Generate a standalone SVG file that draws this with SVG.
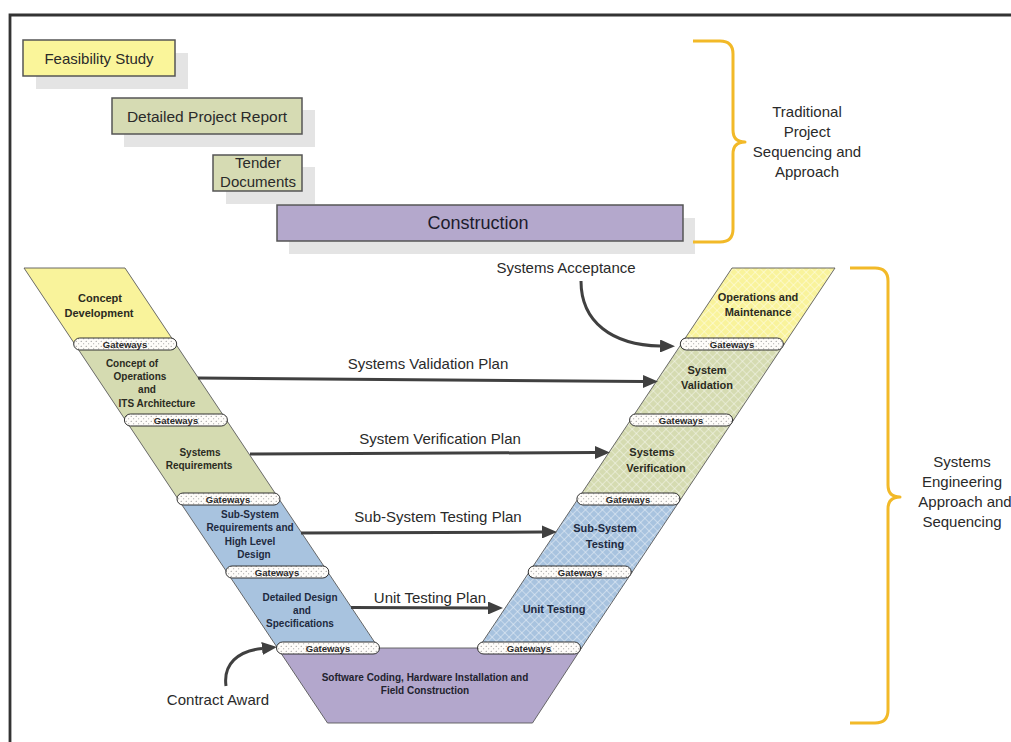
<svg xmlns="http://www.w3.org/2000/svg" width="1011" height="742" viewBox="0 0 1011 742">
  <style>
    .box { stroke: #555; stroke-width: 1.5; }
    .shadow { fill: #e4e4e4; }
    .lbl { font-family: "Liberation Sans", Arial, sans-serif; fill: #2a2a2a; text-anchor: middle; }
    .big { font-size: 15px; }
    .arm { stroke: #5a5a5a; stroke-width: 0.9; }
    .armtxt { font-family: "Liberation Sans", Arial, sans-serif; font-weight: bold; text-anchor: middle; fill: #2b2b22; }
    .s10 { font-size: 10px; }
    .s11 { font-size: 11px; }
    .blue { fill: #1e2a40; }
    .gate { fill: url(#dots); stroke: #333; stroke-width: 1; }
    .gtxt { font-family: "Liberation Sans", Arial, sans-serif; font-weight: bold; font-size: 9.5px; fill: #2a2a2a; text-anchor: middle; }
    .brace { fill: none; stroke: #f2b928; stroke-width: 3; stroke-linejoin: round; }
    .conn { fill: none; stroke: #404040; stroke-width: 3; }
  </style>
  <defs>
    <marker id="head" markerUnits="userSpaceOnUse" markerWidth="15" markerHeight="13" refX="0" refY="6.5" orient="auto">
      <path d="M0,0 L15,6.5 L0,13 z" fill="#404040"/>
    </marker>
    <pattern id="dots" width="5" height="5" patternUnits="userSpaceOnUse">
      <rect width="5" height="5" fill="#fefcf9"/>
      <circle cx="1.2" cy="1.2" r="0.5" fill="#666"/>
      <circle cx="3.7" cy="3.7" r="0.5" fill="#888"/>
    </pattern>
    <pattern id="hatch" width="6" height="6" patternUnits="userSpaceOnUse" patternTransform="rotate(45)">
      <path d="M0,0 H6 M0,0 V6" stroke="#ffffff" stroke-width="1.1" stroke-opacity="0.75"/>
    </pattern>
  </defs>

  <rect width="1011" height="742" fill="#ffffff"/>
  <!-- outer frame -->
  <path d="M10,742 V15 H1011" fill="none" stroke="#333" stroke-width="2.8"/>

  <!-- traditional sequence -->
  <g id="feasibility-study">
    <rect class="shadow" x="36" y="53" width="152" height="36"/>
    <rect class="box" x="23" y="40" width="152" height="36" fill="#faf59a"/>
    <text class="lbl big" x="99" y="64">Feasibility Study</text>
  </g>
  <g id="detailed-project-report">
    <rect class="shadow" x="124" y="110" width="191" height="37"/>
    <rect class="box" x="112" y="98" width="190" height="36" fill="#d6dbb3"/>
    <text class="lbl big" x="207" y="122" style="font-size:15.5px">Detailed Project Report</text>
  </g>
  <g id="tender-documents">
    <rect class="shadow" x="226" y="167" width="89" height="37"/>
    <rect class="box" x="213" y="155" width="89" height="36" fill="#d6dbb3"/>
    <text class="lbl big" x="258" y="168">Tender</text>
    <text class="lbl big" x="258" y="187">Documents</text>
  </g>
  <g id="construction">
    <rect class="shadow" x="289" y="218" width="406" height="36"/>
    <rect class="box" x="277" y="205" width="406" height="36" fill="#b4a8cc"/>
    <text class="lbl" x="478" y="229" style="font-size:18px;fill:#1c1c2c">Construction</text>
  </g>

  <g id="traditional-brace">
    <path class="brace" d="M693,41 H720 Q733,41 733,54 V130 Q733,142 745,142 Q733,142 733,154 V229 Q733,242 720,242 H693"/>
    <text class="lbl big" x="807" y="117">Traditional</text>
    <text class="lbl big" x="807" y="137">Project</text>
    <text class="lbl big" x="807" y="157">Sequencing and</text>
    <text class="lbl big" x="807" y="177">Approach</text>
  </g>

  <!-- left arm of the V -->
  <g id="concept-development">
    <polygon class="arm" points="24,268 125,268 175.7,344 74.7,344" fill="#f9f39b"/>
    <text class="armtxt s11" x="100" y="302">Concept</text>
    <text class="armtxt s11" x="99" y="317">Development</text>
  </g>
  <g id="concept-of-operations">
    <polygon class="arm" points="74.7,344 175.7,344 226.4,420 125.4,420" fill="#d5dbb1"/>
    <text class="armtxt s10" x="132" y="367">Concept of</text>
    <text class="armtxt s10" x="140" y="380">Operations</text>
    <text class="armtxt s10" x="147" y="393">and</text>
    <text class="armtxt s10" x="157" y="407">ITS Architecture</text>
  </g>
  <g id="systems-requirements">
    <polygon class="arm" points="125.4,420 226.4,420 279,499 178,499" fill="#d5dbb1"/>
    <text class="armtxt s10" x="200" y="456">Systems</text>
    <text class="armtxt s10" x="199" y="469">Requirements</text>
  </g>
  <g id="subsystem-requirements">
    <polygon class="arm" points="178,499 279,499 327.8,572 226.8,572" fill="#a8c3df"/>
    <text class="armtxt s10 blue" x="250" y="518">Sub-System</text>
    <text class="armtxt s10 blue" x="250" y="531">Requirements and</text>
    <text class="armtxt s10 blue" x="250" y="545">High Level</text>
    <text class="armtxt s10 blue" x="254" y="558">Design</text>
  </g>
  <g id="detailed-design">
    <polygon class="arm" points="226.8,572 327.8,572 378.5,648 277.5,648" fill="#a8c3df"/>
    <text class="armtxt s10 blue" x="300" y="601">Detailed Design</text>
    <text class="armtxt s10 blue" x="302" y="614">and</text>
    <text class="armtxt s10 blue" x="300" y="627">Specifications</text>
  </g>

  <!-- base of the V -->
  <g id="software-coding">
    <polygon class="arm" points="277.5,648 581.5,648 532.5,723 327.5,723" fill="#b3a7cc"/>
    <text class="armtxt s10" x="425" y="681" style="fill:#22222e">Software Coding, Hardware Installation and</text>
    <text class="armtxt s10" x="425" y="694" style="fill:#22222e">Field Construction</text>
  </g>

  <!-- right arm of the V -->
  <g id="operations-maintenance">
    <polygon points="732,268 835,268 784.3,344 681.3,344" fill="#f9f39b"/>
    <polygon class="arm" points="732,268 835,268 784.3,344 681.3,344" fill="url(#hatch)"/>
    <text class="armtxt s11" x="758" y="301">Operations and</text>
    <text class="armtxt s11" x="758" y="316">Maintenance</text>
  </g>
  <g id="system-validation">
    <polygon points="681.3,344 784.3,344 733.6,420 630.6,420" fill="#d5dbb1"/>
    <polygon class="arm" points="681.3,344 784.3,344 733.6,420 630.6,420" fill="url(#hatch)"/>
    <text class="armtxt s11" x="707" y="374">System</text>
    <text class="armtxt s11" x="707" y="389">Validation</text>
  </g>
  <g id="systems-verification">
    <polygon points="630.6,420 733.6,420 680.9,499 577.9,499" fill="#d5dbb1"/>
    <polygon class="arm" points="630.6,420 733.6,420 680.9,499 577.9,499" fill="url(#hatch)"/>
    <text class="armtxt s11" x="652" y="456">Systems</text>
    <text class="armtxt s11" x="656" y="472">Verification</text>
  </g>
  <g id="subsystem-testing">
    <polygon points="577.9,499 680.9,499 632.2,572 529.2,572" fill="#a8c3df"/>
    <polygon class="arm" points="577.9,499 680.9,499 632.2,572 529.2,572" fill="url(#hatch)"/>
    <text class="armtxt s11 blue" x="605" y="532">Sub-System</text>
    <text class="armtxt s11 blue" x="605" y="548">Testing</text>
  </g>
  <g id="unit-testing">
    <polygon points="529.2,572 632.2,572 581.5,648 478.5,648" fill="#a8c3df"/>
    <polygon class="arm" points="529.2,572 632.2,572 581.5,648 478.5,648" fill="url(#hatch)"/>
    <text class="armtxt s11 blue" x="554" y="613">Unit Testing</text>
  </g>

  <!-- gateways between phases -->
  <g id="gateways-left">
    <rect class="gate" x="73.7" y="338" width="103" height="12" rx="6"/>
    <text class="gtxt" x="125" y="347.5">Gateways</text>
    <rect class="gate" x="124.4" y="414" width="103" height="12" rx="6"/>
    <text class="gtxt" x="176" y="423.5">Gateways</text>
    <rect class="gate" x="177" y="493" width="103" height="12" rx="6"/>
    <text class="gtxt" x="228" y="502.5">Gateways</text>
    <rect class="gate" x="225.8" y="566" width="103" height="12" rx="6"/>
    <text class="gtxt" x="277" y="575.5">Gateways</text>
    <rect class="gate" x="276.5" y="642" width="103" height="12" rx="6"/>
    <text class="gtxt" x="328" y="651.5">Gateways</text>
  </g>
  <g id="gateways-right">
    <rect class="gate" x="680.3" y="338" width="103" height="12" rx="6"/>
    <text class="gtxt" x="732" y="347.5">Gateways</text>
    <rect class="gate" x="629.6" y="414" width="103" height="12" rx="6"/>
    <text class="gtxt" x="681" y="423.5">Gateways</text>
    <rect class="gate" x="576.9" y="493" width="103" height="12" rx="6"/>
    <text class="gtxt" x="628" y="502.5">Gateways</text>
    <rect class="gate" x="528.2" y="566" width="103" height="12" rx="6"/>
    <text class="gtxt" x="580" y="575.5">Gateways</text>
    <rect class="gate" x="477.5" y="642" width="103" height="12" rx="6"/>
    <text class="gtxt" x="529" y="651.5">Gateways</text>
  </g>

  <g id="systems-engineering-brace">
    <path class="brace" d="M850,268 H875 Q888,268 888,281 V485 Q888,497 900,497 Q888,497 888,509 V710 Q888,723 875,723 H850"/>
    <text class="lbl big" x="962" y="467">Systems</text>
    <text class="lbl big" x="962" y="487">Engineering</text>
    <text class="lbl big" x="965" y="507">Approach and</text>
    <text class="lbl big" x="962" y="527">Sequencing</text>
  </g>

  <!-- connectors -->
  <g id="connectors">
    <line class="conn" x1="198" y1="378" x2="643" y2="381.5" marker-end="url(#head)"/>
    <line class="conn" x1="250" y1="454" x2="595" y2="452.5" marker-end="url(#head)"/>
    <line class="conn" x1="301" y1="533" x2="542" y2="532" marker-end="url(#head)"/>
    <line class="conn" x1="351" y1="607.5" x2="488" y2="608" marker-end="url(#head)"/>
    <path class="conn" d="M581,281 C581,322 612,345 660,346" marker-end="url(#head)"/>
    <path class="conn" d="M226,686 C223,664 238,651 262,648.5" marker-end="url(#head)"/>
  </g>

  <g id="connector-labels">
    <text class="lbl big" x="428" y="369">Systems Validation Plan</text>
    <text class="lbl big" x="440" y="444">System Verification Plan</text>
    <text class="lbl big" x="438" y="522">Sub-System Testing Plan</text>
    <text class="lbl big" x="430" y="603">Unit Testing Plan</text>
    <text class="lbl big" x="566" y="273">Systems Acceptance</text>
    <text class="lbl big" x="218" y="705">Contract Award</text>
  </g>
</svg>
